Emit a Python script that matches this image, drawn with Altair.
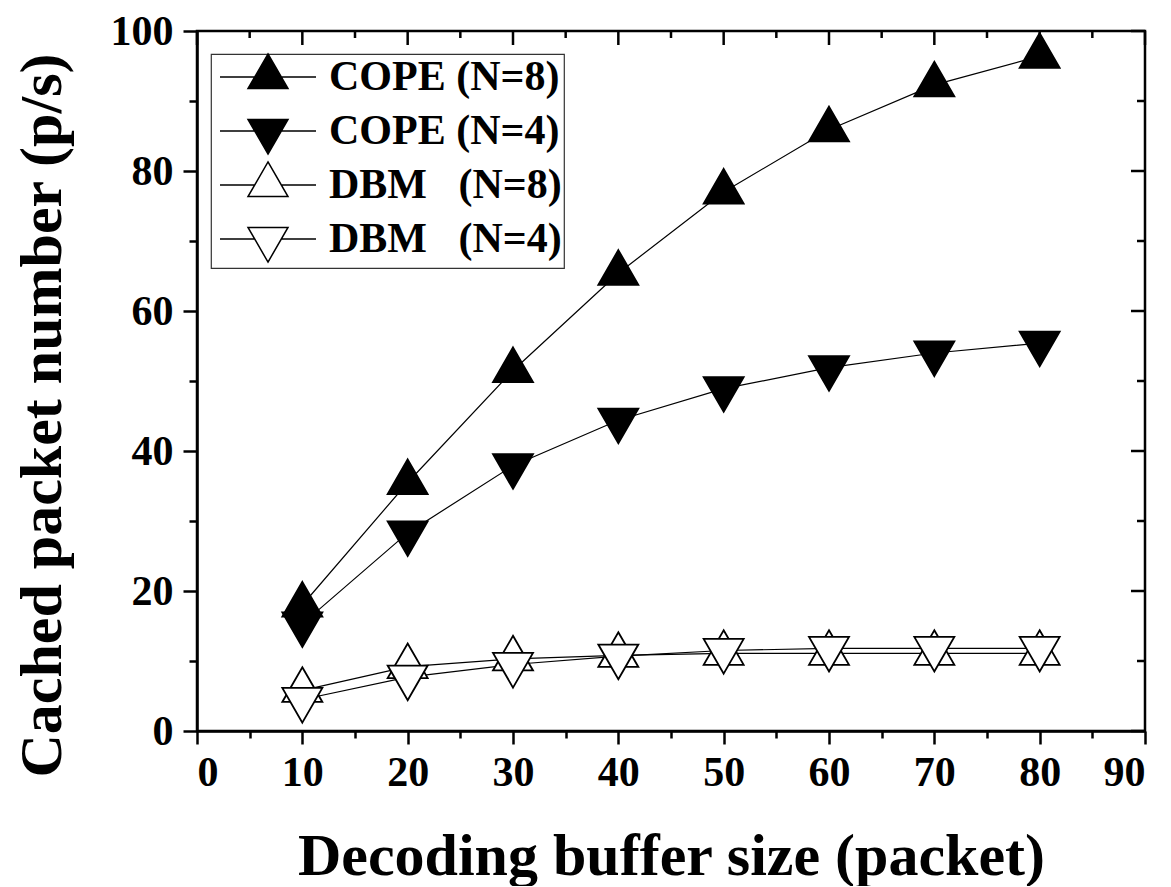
import altair as alt
import pandas as pd

# ---------------- data ----------------
buffer_sizes = [10, 20, 30, 40, 50, 60, 70, 80]
cope_n8 = [18.0, 35.5, 51.5, 65.4, 77.0, 85.9, 92.3, 96.4]
cope_n4 = [15.3, 28.3, 37.9, 44.4, 48.9, 51.9, 54.0, 55.4]
dbm_n8 = [5.8, 9.2, 10.3, 10.8, 11.1, 11.1, 11.1, 11.1]
dbm_n4 = [4.5, 7.7, 9.5, 10.7, 11.5, 11.8, 11.8, 11.8]

series_names = ["COPE (N=8)", "COPE (N=4)",
                "DBM\u00a0\u00a0\u00a0(N=8)", "DBM\u00a0\u00a0\u00a0(N=4)"]
series_values = [cope_n8, cope_n4, dbm_n8, dbm_n4]
series_fill = ["black", "black", "white", "white"]
series_stroke = ["black", "black", "black", "black"]

x_tick_values = [0, 5, 10, 15, 20, 25, 30, 35, 40, 45, 50, 55, 60, 65, 70, 75, 80, 85, 90]
x_major_ticks = [0, 10, 20, 30, 40, 50, 60, 70, 80, 90]
x_minor_ticks = [5, 15, 25, 35, 45, 55, 65, 75, 85]
y_tick_values = [0, 10, 20, 30, 40, 50, 60, 70, 80, 90, 100]
y_major_ticks = [0, 20, 40, 60, 80, 100]
y_minor_ticks = [10, 30, 50, 70, 90]

x_title = "Decoding buffer size (packet)"
y_title = "Cached packet number (p/s)"

# ---------------- marker shapes (centroid-centred triangles) ----------------
UP = "M0,-1.1547L1,0.5774L-1,0.5774Z"
DOWN = "M0,1.1547L1,-0.5774L-1,-0.5774Z"
# legend symbols: line stub + triangle (+ zero-length point to balance bounds)
UP_LEG = "M-2.4,0L-0.667,0M0.667,0L2.4,0M0,1.1547L0,1.1547M0,-1.1547L1,0.5774L-1,0.5774Z"
DOWN_LEG = "M-2.4,0L-0.667,0M0.667,0L2.4,0M0,-1.1547L0,-1.1547M0,1.1547L1,-0.5774L-1,-0.5774Z"

rows = []
for k, (name, vals) in enumerate(zip(series_names, series_values)):
    for xv, yv in zip(buffer_sizes, vals):
        rows.append({"x": xv, "y": yv, "series": name, "order": k})
df = pd.DataFrame(rows)

FONT = "Liberation Serif"
W, H = 948, 700

x_scale = alt.Scale(domain=[0, 90], nice=False, zero=False)
y_scale = alt.Scale(domain=[0, 100], nice=False, zero=False)

x_axis = alt.Axis(
    values=x_tick_values,
    labelExpr="datum.value % 10 === 0 ? datum.label : ''",
    tickSize={"condition": {"test": "datum.value % 10 === 0", "value": 13}, "value": 7},
    labelPadding=8,
    titlePadding=34,
)
y_axis = alt.Axis(
    values=y_tick_values,
    labelExpr="datum.value % 20 === 0 ? datum.label : ''",
    tickSize={"condition": {"test": "datum.value % 20 === 0", "value": 14}, "value": 8},
    labelPadding=10,
    titlePadding=37,
    titleY=384,
)


def X(field):
    return alt.X(f"{field}:Q", scale=x_scale, axis=x_axis, title=x_title)


def Y(field):
    return alt.Y(f"{field}:Q", scale=y_scale, axis=y_axis, title=y_title)


base = alt.Chart(df)

lines = base.mark_line(color="black", strokeWidth=1.2).encode(
    x=X("x"), y=Y("y"), detail="series:N"
)

points = base.mark_point(
    filled=True, size=1600, stroke="black", strokeWidth=1.8, opacity=1
).encode(
    x=X("x"),
    y=Y("y"),
    shape=alt.Shape("series:N",
                    scale=alt.Scale(domain=series_names, range=[UP, DOWN, UP, DOWN]),
                    legend=None),
    fill=alt.Fill("series:N",
                  scale=alt.Scale(domain=series_names, range=series_fill),
                  legend=None),
    order=alt.Order("order:Q"),
)

leg = alt.Legend(
    title=None,
    orient="none",
    legendX=14,
    legendY=23,
    symbolSize=1600,
    symbolStrokeWidth=1.5,
    symbolOpacity=1,
    symbolOffset=34,
    labelFont=FONT,
    labelFontSize=42,
    labelFontWeight="bold",
    labelColor="black",
    labelLimit=0,
    labelOffset=40,
    rowPadding=0,
    padding=2,
    strokeColor="#333333",
    fillColor="white",
)

legend_layer = base.mark_point(
    filled=True, size=1600, strokeWidth=1.5, opacity=0
).encode(
    x=X("x"),
    y=Y("y"),
    shape=alt.Shape("series:N",
                    scale=alt.Scale(domain=series_names,
                                    range=[UP_LEG, DOWN_LEG, UP_LEG, DOWN_LEG]),
                    legend=leg),
    fill=alt.Fill("series:N",
                  scale=alt.Scale(domain=series_names, range=series_fill),
                  legend=leg),
    stroke=alt.Stroke("series:N",
                      scale=alt.Scale(domain=series_names, range=series_stroke),
                      legend=leg),
)

# inward ticks on the top and right frame edges
top_major = alt.Chart(pd.DataFrame({"t": x_major_ticks})).mark_rule(
    color="black", strokeWidth=2.5
).encode(x=X("t"), y=alt.value(0), y2=alt.value(14))
top_minor = alt.Chart(pd.DataFrame({"t": x_minor_ticks})).mark_rule(
    color="black", strokeWidth=2.5
).encode(x=X("t"), y=alt.value(0), y2=alt.value(7))
right_major = alt.Chart(pd.DataFrame({"t": y_major_ticks})).mark_rule(
    color="black", strokeWidth=2.5
).encode(y=Y("t"), x=alt.value(W), x2=alt.value(W - 14))
right_minor = alt.Chart(pd.DataFrame({"t": y_minor_ticks})).mark_rule(
    color="black", strokeWidth=2.5
).encode(y=Y("t"), x=alt.value(W), x2=alt.value(W - 8))

chart = (
    alt.layer(lines, points, legend_layer, top_major, top_minor, right_major, right_minor)
    .resolve_scale(shape="independent", fill="independent", stroke="independent")
    .properties(width=W, height=H,
                padding={"left": 4, "top": 2, "right": 0, "bottom": 0},
                background="white")
    .configure_view(stroke="black", strokeWidth=2.5)
    .configure_axis(
        labelFont=FONT, labelFontSize=42, labelFontWeight="bold", labelColor="black",
        titleFont=FONT, titleFontSize=60, titleFontWeight="bold", titleColor="black",
        domainColor="black", domainWidth=2.5, tickColor="black", tickWidth=2.5,
        grid=False,
    )
    .configure_legend(strokeWidth=1.2, cornerRadius=0)
)

chart.save("out.html", embed_options={"renderer": "svg", "actions": False})
